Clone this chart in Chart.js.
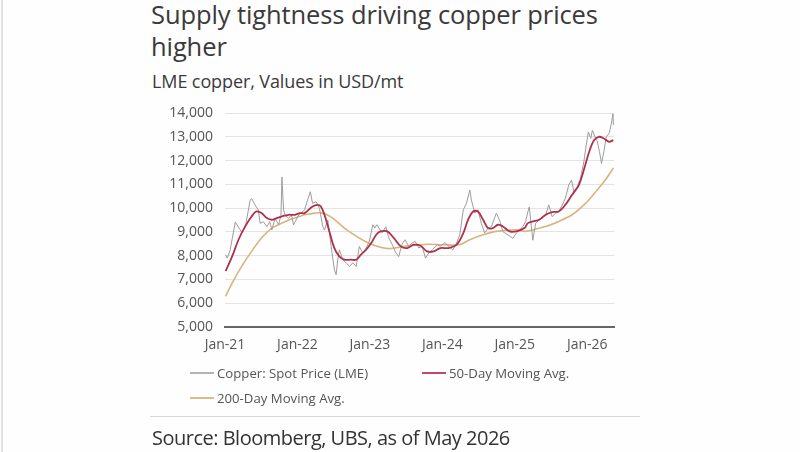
<!DOCTYPE html>
<html>
<head>
<meta charset="utf-8">
<script src="https://cdn.jsdelivr.net/npm/chart.js@4/dist/chart.umd.min.js"></script>
<style>
  html, body { margin: 0; padding: 0; background: #fff; }
  #wrap { position: relative; width: 800px; height: 452px; overflow: hidden; background: #fefefe; font-family: "Open Sans", "Noto Sans", sans-serif; }
  #edge { position: absolute; left: 1px; top: 0; width: 2px; height: 452px; background: #e2e2e2; }
  #title { position: absolute; left: 151px; top: -2px; font-size: 25.5px; line-height: 32px; color: #3a3a3a; font-weight: 400; letter-spacing: -0.1px; }
  #subtitle { position: absolute; left: 152px; top: 69px; font-size: 18px; color: #3a3a3a; letter-spacing: -0.1px; }
  #chart { position: absolute; left: 0; top: 0; }
  .leg { position: absolute; font-size: 13.2px; color: #555; white-space: nowrap; line-height: 16px; }
  .leg span.ln { display: inline-block; width: 24px; height: 2px; vertical-align: middle; margin-right: 3px; position: relative; top: -1px; }
  #divider { position: absolute; left: 150px; top: 416px; width: 490px; height: 1px; background: #d6d6d6; }
  #source { position: absolute; left: 152px; top: 424px; font-size: 20px; color: #333; letter-spacing: -0.5px; }
</style>
</head>
<body>
<div id="wrap">
  <div id="edge"></div>
  <div id="title">Supply tightness driving copper prices<br>higher</div>
  <div id="subtitle">LME copper, Values in USD/mt</div>
  <canvas id="chart" width="800" height="452"></canvas>
  <div class="leg" style="left:190px; top:365px;"><span class="ln" style="background:#b4b4b4"></span>Copper: Spot Price (LME)</div>
  <div class="leg" style="left:422px; top:365px;"><span class="ln" style="background:#c24a5e"></span>50-Day Moving Avg.</div>
  <div class="leg" style="left:190px; top:390px;"><span class="ln" style="background:#dcbd8a"></span>200-Day Moving Avg.</div>
  <div id="divider"></div>
  <div id="source">Source: Bloomberg, UBS, as of May 2026</div>
</div>
<script>
// ---- Data ----
const spotDates = [
 '2021-01-04','2021-01-12','2021-01-26','2021-02-22','2021-03-10','2021-03-26','2021-04-13','2021-05-08','2021-05-15','2021-06-02',
 '2021-06-18','2021-06-27','2021-07-13','2021-07-31','2021-08-15','2021-08-25','2021-09-10','2021-09-28','2021-10-10','2021-10-15',
 '2021-10-23','2021-10-31','2021-11-17','2021-12-02','2021-12-12','2022-01-07','2022-02-06','2022-02-21','2022-03-07','2022-03-18',
 '2022-04-05','2022-04-22','2022-05-09','2022-05-17','2022-06-03','2022-06-20','2022-07-06','2022-07-15','2022-07-23','2022-07-31',
 '2022-08-18','2022-09-04','2022-09-21','2022-10-07','2022-10-24','2022-11-01','2022-11-09','2022-11-26','2022-12-13','2022-12-29',
 '2023-01-16','2023-01-26','2023-02-05','2023-03-04','2023-03-22','2023-04-06','2023-04-23','2023-05-09','2023-05-26','2023-06-12',
 '2023-06-28','2023-07-15','2023-08-01','2023-08-18','2023-09-04','2023-09-21','2023-10-08','2023-10-25','2023-11-11','2023-12-06',
 '2023-12-22','2024-01-15','2024-02-09','2024-02-24','2024-03-13','2024-03-29','2024-04-16','2024-05-02','2024-05-19','2024-05-27',
 '2024-06-13','2024-06-29','2024-07-16','2024-08-02','2024-08-19','2024-09-05','2024-09-30','2024-10-16','2024-11-02','2024-11-28',
 '2024-12-23','2025-01-09','2025-02-11','2025-02-24','2025-03-08','2025-03-15','2025-03-25','2025-04-02','2025-04-16','2025-05-04',
 '2025-05-19','2025-06-06','2025-06-21','2025-07-08','2025-07-25','2025-08-10','2025-08-28','2025-09-13','2025-09-30','2025-10-14',
 '2025-10-26','2025-11-12','2025-11-28','2025-12-15','2025-12-27','2026-01-07','2026-01-19','2026-01-27','2026-02-09','2026-02-21',
 '2026-03-04','2026-03-14','2026-03-26','2026-04-07','2026-04-21','2026-05-01','2026-05-11','2026-05-13'
];
const spotPrice = [
 8040,7900,8200,9420,9200,8990,9200,10340,10400,10130,
 9920,9360,9430,9220,9430,9080,9570,9300,9700,11310,
 9920,9710,9570,9710,9290,9710,9920,10340,10690,10200,
 10270,9990,9220,9080,9500,8380,7410,7200,7830,8250,
 7830,7690,7550,7700,7550,7970,8390,8110,8320,8600,
 9300,9160,9300,8960,9220,8750,8480,8170,7960,8480,
 8670,8400,8530,8600,8320,8400,7900,8110,8250,8460,
 8400,8550,8330,8250,8530,8870,9930,10200,10760,10340,
 9790,9930,9360,8950,9160,9220,9790,9500,9010,8870,
 8730,8950,9220,9430,9840,10050,9280,8650,9360,9500,
 9640,9700,10140,9640,9780,9850,10130,10410,10970,11180,
 10690,10900,11250,11940,12650,13200,12930,13270,13000,12800,
 12370,11880,12370,13000,13130,13480,13970,13500
];
const ma50Dates = [
 '2021-01-04','2021-02-06','2021-03-10','2021-04-13','2021-05-15','2021-06-08','2021-07-04','2021-07-31','2021-08-25','2021-09-19',
 '2021-10-15','2021-11-17','2021-12-20','2022-01-14','2022-02-06','2022-03-18','2022-04-12','2022-04-29','2022-05-17','2022-06-11',
 '2022-07-06','2022-07-31','2022-08-25','2022-09-28','2022-10-24','2022-11-17','2022-12-13','2023-01-08','2023-02-02','2023-02-24',
 '2023-03-30','2023-05-02','2023-06-06','2023-07-09','2023-08-10','2023-09-13','2023-10-16','2023-11-18','2023-12-22','2024-02-01',
 '2024-03-13','2024-04-16','2024-05-10','2024-06-05','2024-06-29','2024-07-25','2024-08-19','2024-09-13','2024-10-08','2024-11-02',
 '2024-12-06','2025-01-09','2025-02-19','2025-03-08','2025-04-03','2025-05-04','2025-06-06','2025-07-08','2025-08-10','2025-09-13',
 '2025-10-17','2025-11-20','2025-12-15','2026-01-11','2026-02-05','2026-03-01','2026-03-26','2026-04-21','2026-05-13'
];
const ma50 = [
 7350,7970,8670,9230,9650,9860,9790,9580,9510,9580,
 9650,9720,9720,9790,9790,10070,10140,10070,9720,9020,
 8320,7970,7830,7830,7830,8040,8250,8530,8880,9020,
 9020,8740,8390,8320,8460,8420,8180,8180,8320,8320,
 8460,8950,9510,9860,9860,9510,9160,9160,9300,9230,
 9020,9020,9160,9370,9440,9510,9720,9830,9860,10140,
 10560,10970,11600,12370,12860,13000,12930,12790,12860
];
const ma200Dates = [
 '2021-01-04','2021-02-06','2021-03-26','2021-05-15','2021-07-04','2021-08-25','2021-10-15','2021-12-02','2022-01-22','2022-02-06',
 '2022-03-30','2022-04-29','2022-06-15','2022-09-12','2022-12-25','2023-04-01','2023-07-01','2023-10-20','2024-01-01','2024-03-29',
 '2024-05-19','2024-07-25','2024-09-30','2025-01-09','2025-02-24','2025-06-06','2025-08-10','2025-10-17','2025-12-25','2026-02-14',
 '2026-04-02','2026-05-13'
];
const ma200 = [
 6290,6850,7550,8180,8740,9160,9370,9540,9680,9720,
 9790,9800,9650,9050,8530,8300,8400,8480,8460,8460,
 8670,8880,9020,9090,9020,9230,9440,9720,10210,10700,
 11180,11690
];
const yearTicks = [2021, 2022, 2023, 2024, 2025, 2026];
const yMin = 5000, yMax = 14000, yStep = 1000;

// ---- helpers ----
function toYear(s) {
  const d = new Date(s + 'T00:00:00Z');
  const y = d.getUTCFullYear();
  const start = Date.UTC(y, 0, 1), end = Date.UTC(y + 1, 0, 1);
  return y + (d.getTime() - start) / (end - start);
}
function pts(dates, vals) { return dates.map((d, i) => ({ x: toYear(d), y: vals[i] })); }

const ctx = document.getElementById('chart').getContext('2d');
new Chart(ctx, {
  type: 'line',
  data: {
    datasets: [
      { label: '200-Day Moving Avg.', data: pts(ma200Dates, ma200), borderColor: '#d8b57e', borderWidth: 1.6, pointRadius: 0, tension: 0.3, order: 3 },
      { label: 'Copper: Spot Price (LME)', data: pts(spotDates, spotPrice), borderColor: '#9c9c9c', borderWidth: 1, pointRadius: 0, tension: 0, order: 2 },
      { label: '50-Day Moving Avg.', data: pts(ma50Dates, ma50), borderColor: '#b0304a', borderWidth: 1.8, pointRadius: 0, tension: 0.35, order: 1 }
    ]
  },
  options: {
    responsive: false,
    animation: false,
    layout: { padding: { left: 0, right: 186, top: 113, bottom: 95 } },
    plugins: { legend: { display: false }, tooltip: { enabled: false }, title: { display: false } },
    scales: {
      x: {
        type: 'linear',
        min: 2021, max: 2026.37,
        afterFit: s => { s.height = 30; },
        afterBuildTicks: s => { s.ticks = yearTicks.map(v => ({ value: v })); },
        grid: { display: false, drawTicks: false },
        border: { display: true, color: '#666', width: 2 },
        ticks: {
          padding: 10,
          color: '#555',
          font: { family: 'Open Sans', size: 14 },
          maxRotation: 0,
          callback: v => 'Jan-' + String(v).slice(2)
        }
      },
      y: {
        min: yMin, max: yMax,
        afterFit: s => { s.width = 225; },
        grid: { color: '#e3e3e3', lineWidth: 1, drawTicks: false },
        border: { display: false },
        ticks: {
          stepSize: yStep,
          padding: 12,
          color: '#555',
          font: { family: 'Open Sans', size: 14 }
        }
      }
    }
  }
});
</script>
</body>
</html>
